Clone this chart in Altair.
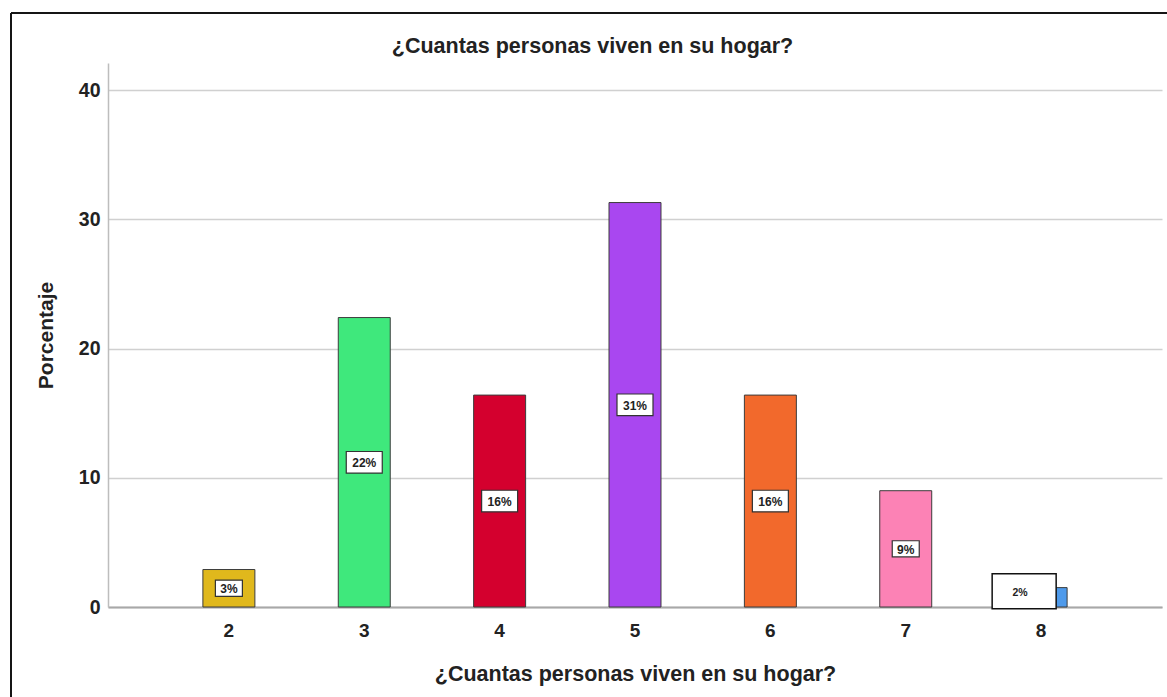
import altair as alt
import pandas as pd

# Household size categories and the share of respondents in each (%)
household_size = ["2", "3", "4", "5", "6", "7", "8"]
percent = [2.9, 22.4, 16.4, 31.3, 16.4, 9.0, 1.5]
bar_colors = ["#E0B81C", "#3FE87C", "#D4002E", "#A947F0", "#F2692C", "#FC82B5", "#4E9AEB"]
y_ticks = [0, 10, 20, 30, 40]

QUESTION = "¿Cuantas personas viven en su hogar?"
FONT = "Liberation Sans"
INK = "#222222"

W, H = 1054, 544
PAD = {"left": 108, "top": 63, "right": 5, "bottom": 90}

df = pd.DataFrame({"hogar": household_size, "pct": percent})
one_row = pd.DataFrame({"k": [0]})

x_scale = alt.Scale(domain=household_size, paddingInner=0.616, paddingOuter=0.701)
y_scale = alt.Scale(domain=[0, 42.1], nice=False)

x_axis = alt.Axis(
    labelAngle=0, ticks=False, tickSize=0, labelPadding=14, titlePadding=23,
    labelFont=FONT, labelFontSize=19, labelFontWeight="bold", labelColor=INK,
    titleFont=FONT, titleFontSize=21.5, titleFontWeight="bold", titleColor=INK,
    domainColor="#a8a8a8", domainWidth=2, grid=False,
)
y_axis = alt.Axis(
    values=y_ticks, ticks=False, tickSize=0, labelPadding=8, titlePadding=22,
    labelFont=FONT, labelFontSize=19.5, labelFontWeight="bold", labelColor=INK,
    titleFont=FONT, titleFontSize=21, titleFontWeight="bold", titleColor=INK,
    domainColor="#bdbdbd", domainWidth=1.5,
    grid=True, gridColor="#d0d0d0", gridWidth=1.6,
)

X = alt.X("hogar:N", scale=x_scale, axis=x_axis, title=QUESTION)

bars = alt.Chart(df).mark_bar(stroke="#3c3c3c", strokeWidth=1).encode(
    x=X,
    y=alt.Y("pct:Q", scale=y_scale, axis=y_axis, title="Porcentaje"),
    color=alt.Color("hogar:N", scale=alt.Scale(domain=household_size, range=bar_colors), legend=None),
)

# Value labels: white boxes with the rounded percentage
labelled = alt.Chart(df).transform_calculate(
    label="format(datum.pct, '.0f') + '%'",
    mid="datum.pct / 2",
    box="pow(9 * length(datum.label) + 9, 2)",
)
Y_MID = alt.Y("mid:Q", scale=y_scale, title="Porcentaje")

inside = labelled.transform_filter("datum.pct >= 2")
inside_boxes = inside.mark_point(
    shape="M-1,-0.6L1,-0.6L1,0.6L-1,0.6Z", filled=True, fill="white",
    stroke="#333333", strokeWidth=1.2, opacity=1,
).encode(x=X, y=Y_MID, size=alt.Size("box:Q", scale=None, legend=None))
inside_text = inside.mark_text(
    font=FONT, fontSize=12, fontWeight="bold", color=INK, baseline="middle", dy=1,
).encode(x=X, y=Y_MID, text="label:N")

# The smallest bar gets a wider box set off to the left of it
outside = labelled.transform_filter("datum.pct < 2")
outside_boxes = outside.mark_point(
    shape="M-1.53,-0.74L0.47,-0.74L0.47,0.36L-1.53,0.36Z", filled=True, fill="white",
    stroke="#111111", strokeWidth=1.5, opacity=1, size=64 * 64,
).encode(x=X, y=Y_MID)
outside_text = outside.mark_text(
    font=FONT, fontSize=10.5, fontWeight="bold", color=INK, baseline="middle", dx=-21, dy=-4,
).encode(x=X, y=Y_MID, text="label:N")

# Chart heading
heading = alt.Chart(one_row).mark_text(
    text=QUESTION, font=FONT, fontSize=21.5, fontWeight="bold", color=INK,
    align="center", baseline="alphabetic",
).encode(x=alt.value(484.5), y=alt.value(-10))

# Outer frame (left and top edges)
frame_left = alt.Chart(one_row).mark_rule(color="#151515", strokeWidth=2).encode(
    x=alt.value(-97), y=alt.value(-50), y2=alt.value(H + PAD["bottom"])
)
frame_top = alt.Chart(one_row).mark_rule(color="#151515", strokeWidth=2).encode(
    x=alt.value(-97), x2=alt.value(W + PAD["right"]), y=alt.value(-50)
)

chart = alt.layer(
    bars, inside_boxes, inside_text, outside_boxes, outside_text, heading, frame_left, frame_top
).properties(
    width=W, height=H, padding=PAD, autosize=alt.AutoSizeParams(type="none"),
    background="white",
).configure_view(stroke=None)

chart.save("out.html", embed_options={"renderer": "svg", "actions": False})
